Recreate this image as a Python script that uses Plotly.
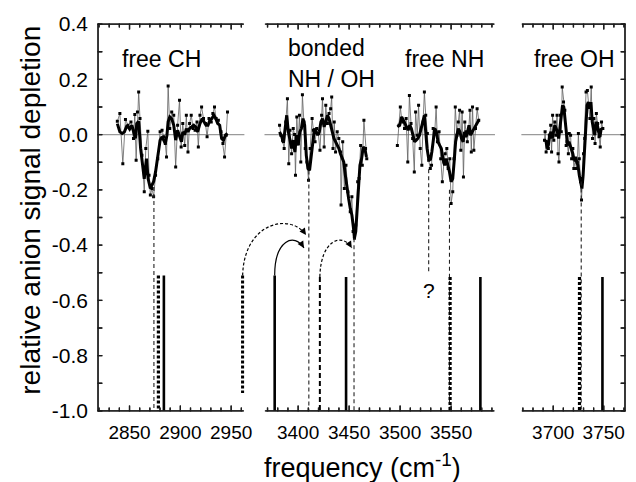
import plotly.graph_objects as go

# ---------------- data ----------------
# free CH region (raw scan + smoothed)
ch_raw_x = [2838.0, 2840.5, 2843.4, 2846.0, 2848.5, 2851.4, 2853.9, 2855.2, 2856.5, 2857.8,
            2859.0, 2860.3, 2862.2, 2864.5, 2866.0, 2868.0, 2869.2, 2870.5, 2872.1, 2873.7,
            2875.6, 2877.8, 2880.1, 2882.0, 2883.6, 2885.2, 2886.4, 2888.0, 2889.6, 2891.5,
            2893.5, 2895.4, 2897.3, 2899.2, 2900.8, 2902.4, 2904.3, 2905.9, 2907.5, 2909.1,
            2910.7, 2912.6, 2914.5, 2916.4, 2917.7, 2919.3, 2920.9, 2922.8, 2924.7, 2926.3,
            2928.2, 2930.4, 2932.0, 2933.6, 2935.2, 2937.4, 2940.0, 2941.9, 2943.5, 2945.1, 2946.4]
ch_raw_y = [0.048, 0.076, -0.105, 0.055, 0.034, 0.046, -0.014, 0.073, -0.093, 0.082,
            0.154, 0.058, -0.075, -0.207, -0.05, 0.012, -0.147, -0.219, -0.195, -0.225,
            -0.147, -0.087, 0.01, 0.016, -0.008, -0.032, -0.081, 0.176, 0.022, 0.082,
            0.07, -0.117, 0.034, 0.124, -0.045, 0.04, -0.039, 0.07, -0.063, 0.04,
            0.07, 0.022, 0.016, 0.046, -0.045, 0.07, 0.1, 0.058, 0.04, -0.008,
            0.058, 0.046, 0.076, 0.1, 0.058, 0.052, 0.01, -0.032, -0.081, -0.002, 0.082]
ch_avg_x = [2838.0, 2840.5, 2842.8, 2845.0, 2847.6, 2850.1, 2852.3, 2853.9, 2855.8, 2857.1,
            2859.0, 2860.9, 2862.9, 2864.5, 2866.7, 2868.3, 2870.5, 2872.1, 2873.7, 2875.6,
            2877.8, 2880.1, 2882.0, 2883.6, 2885.2, 2886.8, 2888.0, 2889.6, 2891.5, 2893.5,
            2895.4, 2897.3, 2899.2, 2901.1, 2902.4, 2904.3, 2905.9, 2907.5, 2909.1, 2911.3,
            2913.2, 2915.1, 2917.0, 2919.3, 2921.5, 2923.4, 2925.3, 2927.2, 2929.1, 2931.1,
            2933.0, 2934.9, 2936.8, 2938.7, 2940.6, 2942.5, 2944.4, 2946.4]
ch_avg_y = [0.04, 0.01, 0.004, 0.01, 0.034, 0.02, 0.034, 0.01, -0.014, 0.04,
            0.048, -0.05, -0.11, -0.16, -0.087, -0.16, -0.195, -0.183, -0.17, -0.135,
            -0.069, -0.02, -0.008, -0.02, -0.032, -0.002, 0.046, 0.064, 0.058, 0.034,
            -0.02, 0.016, -0.002, -0.026, 0.01, 0.0, 0.022, 0.01, 0.022, 0.028,
            0.034, 0.028, 0.01, 0.04, 0.058, 0.046, 0.034, 0.034, 0.052, 0.058,
            0.07, 0.058, 0.04, 0.034, -0.014, -0.02, -0.002, 0.004]

# bonded NH / OH region
bnd_raw_x = [3381.8, 3383.1, 3384.7, 3386.3, 3387.9, 3389.5, 3390.8, 3392.0, 3393.6, 3395.2,
             3396.5, 3397.4, 3398.7, 3400.0, 3401.3, 3402.6, 3404.2, 3405.7, 3407.0, 3408.6,
             3410.2, 3411.8, 3413.7, 3415.0, 3416.6, 3418.2, 3419.8, 3421.4, 3423.0, 3423.9,
             3425.5, 3427.1, 3428.7, 3430.3, 3431.9, 3432.9, 3434.2, 3435.4, 3436.7, 3438.3,
             3439.9, 3441.5, 3442.1, 3443.7, 3445.3, 3446.9, 3448.8, 3451.1, 3452.7, 3453.9,
             3455.2, 3456.5, 3458.4, 3459.7, 3461.3, 3462.9, 3464.5, 3466.1, 3467.3]
bnd_raw_y = [0.034, -0.002, -0.02, -0.05, 0.046, 0.13, -0.105, 0.016, -0.069, 0.022,
             0.0, -0.147, 0.064, -0.032, 0.07, -0.099, 0.144, 0.046, -0.05, -0.099,
             -0.165, -0.05, 0.058, 0.016, -0.026, 0.022, 0.004, -0.057, 0.07, 0.13,
             -0.045, 0.106, 0.04, 0.076, 0.094, 0.136, -0.05, 0.046, -0.063, 0.01,
             -0.014, -0.063, -0.255, -0.026, -0.195, -0.111, -0.207, -0.279, -0.225, -0.351,
             -0.375, -0.327, -0.171, -0.159, -0.039, -0.111, 0.052, -0.05, -0.087]
bnd_avg_x = [3381.8, 3384.0, 3385.6, 3387.6, 3388.8, 3390.4, 3392.0, 3393.6, 3395.2, 3396.8,
             3398.4, 3400.0, 3401.6, 3403.2, 3404.8, 3406.4, 3408.0, 3409.6, 3411.2, 3412.8,
             3414.4, 3416.0, 3417.6, 3419.2, 3420.8, 3422.3, 3423.9, 3425.5, 3427.1, 3428.7,
             3430.3, 3431.9, 3433.5, 3435.1, 3436.7, 3438.3, 3439.9, 3441.5, 3443.1, 3444.7,
             3446.3, 3447.9, 3449.5, 3451.1, 3452.7, 3454.3, 3455.2, 3456.5, 3457.8, 3459.0,
             3460.6, 3462.2, 3463.8, 3465.4, 3467.0]
bnd_avg_y = [0.01, -0.008, -0.03, 0.022, 0.07, 0.01, -0.026, -0.05, -0.02, -0.063,
             -0.002, -0.039, 0.01, 0.022, 0.058, 0.034, -0.075, -0.123, -0.129, -0.075,
             -0.026, 0.022, 0.01, -0.002, 0.01, 0.046, 0.058, 0.028, 0.046, 0.07,
             0.058, 0.028, 0.01, -0.014, -0.026, -0.032, -0.05, -0.069, -0.087, -0.099,
             -0.147, -0.195, -0.231, -0.267, -0.291, -0.339, -0.375, -0.351, -0.279, -0.195,
             -0.111, -0.087, -0.045, -0.05, -0.081]

# free NH region
nh_raw_x = [3497.3, 3498.9, 3500.2, 3501.5, 3502.7, 3504.3, 3505.9, 3507.5, 3509.1, 3510.7,
            3512.3, 3513.9, 3515.2, 3516.8, 3518.1, 3519.7, 3521.3, 3522.5, 3523.8, 3525.1,
            3526.7, 3528.0, 3529.6, 3530.8, 3532.4, 3534.0, 3535.3, 3536.6, 3538.2, 3539.8,
            3541.4, 3543.0, 3544.2, 3545.8, 3547.1, 3548.7, 3550.0, 3551.6, 3552.8, 3554.1,
            3555.7, 3557.0, 3558.3, 3559.5, 3560.8, 3562.1, 3563.4, 3564.7, 3565.9, 3567.2,
            3568.5, 3569.8, 3571.0, 3572.3, 3573.9, 3575.5, 3577.1]
nh_raw_y = [-0.039, 0.034, 0.1, 0.058, 0.046, 0.022, 0.058, -0.099, 0.142, 0.04,
            -0.014, -0.135, 0.082, -0.002, 0.106, -0.05, -0.111, 0.046, 0.154, 0.07,
            0.004, -0.093, -0.123, -0.111, 0.022, 0.01, 0.1, -0.026, 0.01, -0.087,
            -0.171, -0.099, -0.069, -0.05, -0.123, -0.087, -0.249, -0.207, -0.087, 0.1,
            -0.002, 0.046, 0.088, -0.057, 0.082, -0.153, 0.046, 0.01, -0.026, 0.016,
            0.088, -0.063, 0.1, -0.057, 0.022, 0.094, 0.052]
nh_avg_x = [3497.3, 3499.6, 3501.5, 3503.1, 3504.7, 3506.3, 3507.9, 3509.4, 3511.0, 3512.6,
            3514.2, 3515.8, 3517.4, 3519.0, 3520.6, 3522.2, 3523.8, 3525.1, 3526.4, 3528.0,
            3529.6, 3531.1, 3532.7, 3534.0, 3535.6, 3537.2, 3538.8, 3540.4, 3542.0, 3543.6,
            3545.2, 3546.8, 3548.4, 3550.0, 3551.6, 3553.2, 3554.4, 3555.7, 3557.0, 3558.6,
            3560.2, 3561.8, 3563.1, 3564.6, 3565.9, 3567.5, 3569.1, 3570.7, 3572.3, 3573.9,
            3575.5, 3577.1]
nh_avg_y = [0.028, 0.034, 0.064, 0.052, 0.04, 0.022, 0.016, 0.034, 0.022, -0.002,
            -0.026, -0.02, -0.014, -0.002, 0.022, 0.046, 0.07, 0.01, -0.05, -0.087,
            -0.093, -0.063, -0.002, 0.022, 0.01, -0.026, -0.039, -0.05, -0.087, -0.111,
            -0.087, -0.111, -0.135, -0.171, -0.159, -0.087, -0.026, -0.002, 0.022, 0.01,
            -0.014, -0.026, 0.01, -0.008, 0.004, 0.034, -0.002, 0.01, 0.022, 0.034,
            0.046, 0.052]

# free OH region
oh_raw_x = [3691.4, 3692.0, 3693.0, 3694.3, 3695.2, 3696.2, 3697.5, 3698.4, 3699.4, 3700.6,
            3701.6, 3702.6, 3703.8, 3704.8, 3705.7, 3707.0, 3708.0, 3708.9, 3710.2, 3711.5,
            3712.8, 3713.7, 3715.0, 3715.9, 3717.2, 3718.2, 3719.4, 3720.4, 3721.7, 3723.0,
            3723.9, 3724.9, 3725.8, 3727.1, 3728.0, 3729.0, 3730.0, 3731.2, 3732.5, 3733.8,
            3735.1, 3736.3, 3737.6, 3738.9, 3740.2, 3741.4, 3742.7, 3744.0, 3745.3, 3746.5,
            3747.8, 3749.1]
oh_raw_y = [-0.02, 0.01, -0.063, -0.032, -0.05, -0.002, 0.034, -0.063, 0.07, -0.02,
            0.046, -0.002, 0.07, -0.069, -0.099, 0.07, 0.01, 0.172, 0.118, 0.088,
            -0.039, -0.026, -0.069, 0.004, -0.002, -0.087, -0.05, -0.123, -0.093, -0.123,
            -0.099, 0.004, -0.087, -0.171, -0.237, -0.159, -0.069, -0.014, 0.154, 0.16,
            0.1, 0.058, 0.172, -0.014, 0.058, -0.032, 0.076, 0.04, -0.008, -0.045,
            0.046, 0.022]
oh_avg_x = [3691.4, 3692.7, 3694.0, 3695.2, 3696.5, 3697.8, 3699.0, 3700.3, 3701.6, 3702.9,
            3704.1, 3705.4, 3706.7, 3708.0, 3709.2, 3710.5, 3711.8, 3713.1, 3714.3, 3715.6,
            3716.9, 3718.2, 3719.4, 3720.7, 3722.0, 3723.3, 3724.5, 3725.8, 3727.1, 3728.4,
            3729.6, 3730.9, 3732.2, 3733.5, 3734.7, 3736.0, 3737.3, 3738.6, 3739.8, 3741.1,
            3742.4, 3743.7, 3744.9, 3746.2, 3747.5, 3748.8]
oh_avg_y = [-0.026, -0.02, -0.05, -0.038, -0.002, 0.01, -0.014, 0.01, 0.034, 0.022,
            0.01, -0.014, 0.034, 0.07, 0.106, 0.1, 0.046, -0.014, -0.039, -0.026,
            -0.039, -0.05, -0.069, -0.093, -0.081, -0.099, -0.111, -0.147, -0.171, -0.195,
            -0.147, -0.05, 0.046, 0.106, 0.118, 0.094, 0.118, 0.046, 0.022, -0.002,
            0.046, 0.034, 0.01, -0.008, 0.022, 0.016]

# calculated frequencies (sticks): (panel, frequency, top, bottom)
stick_solid = [(1, 2883.8, -0.51, -1.0), (2, 3377.0, -0.51, -1.0), (2, 3447.0, -0.515, -1.0),
               (2, 3578.7, -0.515, -1.0), (3, 3748.7, -0.515, -1.0)]
stick_dashed = [(1, 2878.4, -0.51, -1.0), (1, 2961.3, -0.51, -0.935),
                (2, 3549.0, -0.515, -1.0), (3, 3726.0, -0.515, -1.0)]
stick_medium = [(2, 3421.3, -0.515, -1.0)]
# guide lines from measured bands down to calculated sticks
guides = [(1, 2874.0, -0.19, -1.0), (2, 3410.5, -0.13, -1.0), (2, 3454.8, -0.375, -1.0),
          (2, 3528.0, -0.125, -0.50), (2, 3548.4, -0.20, -1.0), (3, 3727.7, -0.17, -1.0)]

# curved arrows: (style, [(panel, freq, value) x 4 bezier points])
arcs = [("dash", [(1, 2961.3, -0.51), (1, 2962.5, -0.317), (2, 3392.3, -0.281), (2, 3407.7, -0.363)]),
        ("solid", [(2, 3377.0, -0.51), (2, 3377.0, -0.381), (2, 3396.2, -0.353), (2, 3405.7, -0.41)]),
        ("dash", [(2, 3421.3, -0.515), (2, 3422.0, -0.381), (2, 3443.1, -0.353), (2, 3452.6, -0.41)])]

labels = [(1, 2881.0, 0.272, "free CH"), (2, 3427.8, 0.314, "bonded"), (2, 3432.5, 0.203, "NH / OH"),
          (2, 3543.6, 0.272, "free NH"), (3, 3721.5, 0.272, "free OH")]
question = (2, 3528.0, -0.565, "?")

y_tick_vals = [0.4, 0.3, 0.2, 0.1, 0.0, -0.1, -0.2, -0.3, -0.4, -0.5, -0.6, -0.7, -0.8, -0.9, -1.0]
y_tick_text = ["0.4", "", "0.2", "", "0.0", "", "-0.2", "", "-0.4", "", "-0.6", "", "-0.8", "", "-1.0"]
x_tick_labels = {1: [2850, 2900, 2950], 2: [3400, 3450, 3500, 3550], 3: [3700, 3750]}

# ---------------- layout constants ----------------
W, H = 636, 482
ML, MR, MT, MB = 97, 2, 23, 70
PW, PH = W - ML - MR, H - MT - MB
Y0, Y1 = -1.0, 0.4                       # frame limits
YPAD = 0.004
YR = [Y0 - YPAD, Y1 + YPAD]              # axis range (tiny pad so frame is not clipped)
XPAD = 1.0
frames = {1: [2819.0, 2962.0], 2: [3368.0, 3592.0], 3: [3669.5, 3771.0]}
domains = {1: [0.0, 0.2786], 2: [0.3166, 0.7523], 3: [0.8022, 1.0]}
xranges = {p: [frames[p][0] - XPAD, frames[p][1] + XPAD] for p in frames}
xname = {1: "x", 2: "x2", 3: "x3"}
FONT = "Liberation Sans, Arial, Helvetica, sans-serif"
LW = 1.3
FRAME_COLOR = "#1c1c1c"
YSCALE = PH / (YR[1] - YR[0])            # px per y unit


def xscale(p):
    return (domains[p][1] - domains[p][0]) * PW / (xranges[p][1] - xranges[p][0])


def px_(p, f):
    r, d = xranges[p], domains[p]
    return d[0] + (f - r[0]) / (r[1] - r[0]) * (d[1] - d[0])


def py_(v):
    return (v - YR[0]) / (YR[1] - YR[0])


fig = go.Figure()

for p, rx, ry, ax_, ay_ in [(1, ch_raw_x, ch_raw_y, ch_avg_x, ch_avg_y),
                            (2, bnd_raw_x, bnd_raw_y, bnd_avg_x, bnd_avg_y),
                            (2, nh_raw_x, nh_raw_y, nh_avg_x, nh_avg_y),
                            (3, oh_raw_x, oh_raw_y, oh_avg_x, oh_avg_y)]:
    fig.add_trace(go.Scatter(x=rx, y=ry, xaxis=xname[p], yaxis="y", mode="lines+markers",
                             line=dict(color="#606060", width=0.8),
                             marker=dict(symbol="square", size=3, color="black"),
                             showlegend=False, hoverinfo="skip"))
    fig.add_trace(go.Scatter(x=ax_, y=ay_, xaxis=xname[p], yaxis="y", mode="lines",
                             line=dict(color="black", width=3),
                             showlegend=False, hoverinfo="skip"))


def add_sticks(items, width, dash, color="black"):
    for p in (1, 2, 3):
        xs, ys = [], []
        for (pp, f, t, b) in items:
            if pp == p:
                xs += [f, f, None]
                ys += [t, b, None]
        if xs:
            fig.add_trace(go.Scatter(x=xs, y=ys, xaxis=xname[p], yaxis="y", mode="lines",
                                     line=dict(color=color, width=width, dash=dash),
                                     showlegend=False, hoverinfo="skip"))


add_sticks(guides, 1.1, "4px,3px", "#222222")
add_sticks(stick_solid, 2.6, "solid")
add_sticks(stick_dashed, 3.2, "3px,2px")
add_sticks(stick_medium, 2.0, "5px,3px")

shapes = []
for p in (1, 2, 3):
    shapes.append(dict(type="line", xref=xname[p] + " domain", x0=0, x1=1, yref="y", y0=0, y1=0,
                       line=dict(color="#9a9a9a", width=1.3), layer="below"))

# ---- frame + inward ticks (broken-axis look): traces plus thin filled bars ----
hx = 0.5 * LW / PW
hy = 0.5 * LW / PH
for p in (1, 2, 3):
    a, b = frames[p]
    segs = [((a, Y0), (b, Y0)), ((a, Y1), (b, Y1))]
    v = int(a // 10 * 10 + 10)
    while v <= b:
        L = (5.0 if v in x_tick_labels[p] else 3.0) / YSCALE
        segs.append(((v, Y0), (v, Y0 + L)))
        segs.append(((v, Y1), (v, Y1 - L)))
        v += 10
    if p in (1, 3):
        edge = a if p == 1 else b
        sgn = 1 if p == 1 else -1
        segs.append(((edge, Y0), (edge, Y1)))
        tl = 4.0 / xscale(p)
        for yv in y_tick_vals:
            segs.append(((edge, yv), (edge + sgn * tl, yv)))
    xs, ys = [], []
    for (s0, s1) in segs:
        xs += [s0[0], s1[0], None]
        ys += [s0[1], s1[1], None]
        X0, X1 = sorted((px_(p, s0[0]), px_(p, s1[0])))
        Yb, Yt = sorted((py_(s0[1]), py_(s1[1])))
        shapes.append(dict(type="rect", xref="paper", yref="paper",
                           x0=X0 - hx, x1=X1 + hx, y0=Yb - hy, y1=Yt + hy,
                           fillcolor=FRAME_COLOR, line=dict(width=0)))
    fig.add_trace(go.Scatter(x=xs, y=ys, xaxis=xname[p], yaxis="y", mode="lines",
                             line=dict(color=FRAME_COLOR, width=LW),
                             showlegend=False, hoverinfo="skip"))

annotations = []
for style, pts in arcs:
    P = [(px_(p, f), py_(v)) for (p, f, v) in pts]
    path = "M{},{} C{},{} {},{} {},{}".format(P[0][0], P[0][1], P[1][0], P[1][1],
                                              P[2][0], P[2][1], P[3][0], P[3][1])
    shapes.append(dict(type="path", xref="paper", yref="paper", path=path,
                       line=dict(color="black", width=1.2, dash="3px,2px" if style == "dash" else "solid")))
    dxp = (P[2][0] - P[3][0]) * PW
    dyp = -(P[2][1] - P[3][1]) * PH
    n = (dxp ** 2 + dyp ** 2) ** 0.5
    annotations.append(dict(x=P[3][0], y=P[3][1], xref="paper", yref="paper", text="",
                            showarrow=True, ax=dxp / n * 7, ay=dyp / n * 7,
                            arrowhead=2, arrowsize=1.1, arrowwidth=1.2, arrowcolor="black", standoff=0))

for (p, f, v, t) in labels:
    annotations.append(dict(x=f, y=v, xref=xname[p], yref="y", text=t, showarrow=False,
                            xanchor="center", yanchor="middle",
                            font=dict(size=23, color="black", family=FONT)))
p, f, v, t = question
annotations.append(dict(x=f, y=v, xref=xname[p], yref="y", text=t, showarrow=False,
                        xanchor="center", yanchor="middle",
                        font=dict(size=21, color="black", family=FONT)))

annotations.append(dict(x=(367 - ML) / PW, y=-0.14, xref="paper", yref="paper",
                        xanchor="center", yanchor="middle",
                        text="frequency (cm<sup>-1</sup>)", showarrow=False,
                        font=dict(size=27, color="black", family=FONT)))
annotations.append(dict(x=(30 - ML) / PW, y=0.52, xref="paper", yref="paper", textangle=-90,
                        xanchor="center", yanchor="middle",
                        text="relative anion signal depletion", showarrow=False,
                        font=dict(size=28, color="black", family=FONT)))

layout = dict(width=W, height=H, margin=dict(l=ML, r=MR, t=MT, b=MB),
              paper_bgcolor="white", plot_bgcolor="white",
              font=dict(family=FONT, size=19, color="black"),
              shapes=shapes, annotations=annotations, showlegend=False)

for p in (1, 2, 3):
    key = "xaxis" if p == 1 else "xaxis%d" % p
    layout[key] = dict(domain=domains[p], range=xranges[p], anchor="y",
                       showline=False, ticks="", tickmode="array",
                       tickvals=x_tick_labels[p], ticktext=[str(v) for v in x_tick_labels[p]],
                       showgrid=False, zeroline=False, ticklabelstandoff=7,
                       tickfont=dict(size=19, family=FONT, color="black"))

layout["yaxis"] = dict(domain=[0, 1], range=YR, anchor="x", showline=False, ticks="",
                       tickmode="array", tickvals=y_tick_vals, ticktext=y_tick_text,
                       showgrid=False, zeroline=False, ticklabelstandoff=8,
                       tickfont=dict(size=21, family=FONT, color="black"))

fig.update_layout(**layout)
fig.write_html("out.html", config={"displayModeBar": False},
               post_script="document.body.style.margin='0';document.body.style.overflow='hidden';")
